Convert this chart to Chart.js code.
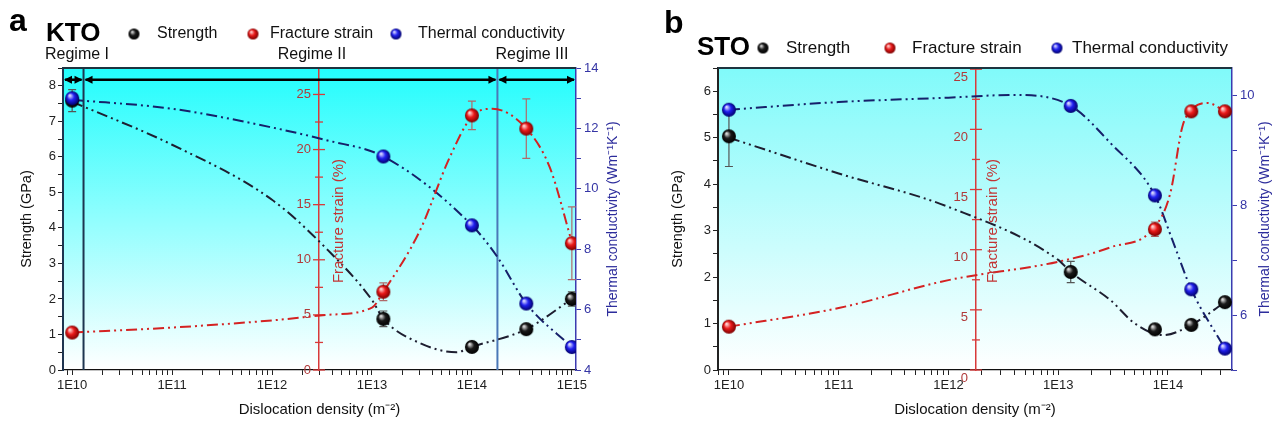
<!DOCTYPE html>
<html>
<head>
<meta charset="utf-8">
<script src="https://cdn.jsdelivr.net/npm/chart.js@4.4.0/dist/chart.umd.min.js"></script>
<style>
  body { margin: 0; background: #fff; width: 1280px; height: 427px; position: relative; overflow: hidden; }
  .panel { position: absolute; top: 0; width: 640px; height: 427px; }
</style>
</head>
<body>
<div class="panel" style="left:0"><canvas id="chartKTO" width="640" height="427"></canvas></div>
<div class="panel" style="left:640px"><canvas id="chartSTO" width="640" height="427"></canvas></div>
<script>
// KTO - measured points
const ktoDensity = [1e10, 1.3e13, 1e14, 3.5e14, 1e15];
const ktoStrength = [7.58, 1.44, 0.65, 1.15, 2.0];
const ktoStrengthErr = [0.31, 0.22, 0.06, 0.08, 0.2];
const ktoStrain = [3.4, 7.1, 23.1, 21.9, 11.5];
const ktoStrainErr = [0, 0.8, 1.3, 2.7, 3.3];
const ktoThermal = [13.0, 11.07, 8.79, 6.2, 4.76];

// KTO - guide curves
const ktoStrengthFitX = [1e10, 1e11, 1e12, 3.6e12, 1e13, 1.3e13, 3e13, 7e13, 1e14, 3.5e14, 1e15];
const ktoStrengthFit = [7.55, 6.34, 4.79, 3.38, 1.97, 1.44, 0.76, 0.5, 0.65, 1.15, 2.0];
const ktoStrainFitX = [1e10, 1e11, 1e12, 3.6e12, 1e13, 1.3e13, 3e13, 6e13, 1e14, 1.6e14, 3.5e14, 6e14, 1e15];
const ktoStrainFit = [3.4, 3.85, 4.5, 5.0, 5.66, 7.1, 12.6, 19.3, 23.0, 23.7, 21.9, 18.4, 11.6];
const ktoThermalFitX = [1e10, 1e11, 1e12, 3.6e12, 1.3e13, 1e14, 1.8e14, 3.5e14, 1e15];
const ktoThermalFit = [12.95, 12.65, 12.03, 11.6, 11.07, 8.79, 7.74, 6.2, 4.76];

const ktoRegimeEdges = [1.3e10, 1.8e14];
const ktoRegimeNames = ['Regime I', 'Regime II', 'Regime III'];

// STO - measured points
const stoDensity = [1e10, 1.3e13, 7.6e13, 1.63e14, 3.3e14];
const stoStrength = [5.03, 2.11, 0.875, 0.97, 1.46];
const stoStrengthErr = [0.65, 0.23, 0.1, 0.08, 0.05];
const stoStrain = [3.6, null, 11.7, 21.5, 21.5];
const stoStrainErr = [0, 0, 0.6, 0, 0];
const stoThermal = [9.74, 9.81, 8.18, 6.47, 5.39];

// STO - guide curves
const stoStrengthFitX = [1e10, 1e11, 1e12, 1e13, 1.3e13, 3e13, 5e13, 9e13, 1.63e14, 3.3e14];
const stoStrengthFit = [5.0, 4.23, 3.51, 2.37, 2.11, 1.5, 1.0, 0.75, 0.97, 1.46];
const stoStrainFitX = [1e10, 1e11, 1e12, 1e13, 3e13, 7.6e13, 1.05e14, 1.35e14, 1.63e14, 2.3e14, 3.3e14];
const stoStrainFit = [3.6, 5.15, 7.47, 9.0, 10.2, 11.9, 14.7, 20.2, 21.6, 22.2, 21.5];
const stoThermalFitX = [1e10, 1e11, 1e12, 4e12, 1.3e13, 3e13, 7.6e13, 1.1e14, 1.63e14, 3.3e14];
const stoThermalFit = [9.74, 9.88, 9.96, 10.01, 9.81, 9.13, 8.18, 7.36, 6.47, 5.39];

// x tick labels
const ktoTickValues = [1e10, 1e11, 1e12, 1e13, 1e14, 1e15];
const ktoTickLabels = ['1E10', '1E11', '1E12', '1E13', '1E14', '1E15'];
const stoTickValues = [1e10, 1e11, 1e12, 1e13, 1e14];
const stoTickLabels = ['1E10', '1E11', '1E12', '1E13', '1E14'];

Chart.defaults.font.family = '"Liberation Sans", Arial, sans-serif';
Chart.defaults.color = '#222';

const DASH = [11, 4, 2, 4, 2, 4];
const FONT = '"Liberation Sans", Arial, sans-serif';

// glossy ball used as point style
function ball(light, mid, dark, r) {
  const s = Math.ceil(r * 2 + 2);
  const c = document.createElement('canvas');
  c.width = s; c.height = s;
  const g = c.getContext('2d');
  const grad = g.createRadialGradient(s / 2 - r * 0.35, s / 2 - r * 0.4, r * 0.1, s / 2, s / 2, r);
  grad.addColorStop(0, light);
  grad.addColorStop(0.45, mid);
  grad.addColorStop(1, dark);
  g.fillStyle = grad;
  g.beginPath(); g.arc(s / 2, s / 2, r, 0, Math.PI * 2); g.fill();
  return c;
}
const balls = {
  black: ball('#d8d8d8', '#1a1a1a', '#000', 7),
  red: ball('#ffd0d0', '#ea1a1a', '#7a0000', 7),
  blue: ball('#d8d8ff', '#2020f0', '#00006a', 7)
};
const smallBalls = {
  black: ball('#d8d8d8', '#1a1a1a', '#000', 5.5),
  red: ball('#ffd0d0', '#ea1a1a', '#7a0000', 5.5),
  blue: ball('#d8d8ff', '#2020f0', '#00006a', 5.5)
};

function pts(xs, ys) { return xs.map((x, i) => ({x: x, y: ys[i]})); }

function logTicks(min, max) {
  const t = [];
  for (let e = 9; e <= 15; e++) {
    for (let m = 1; m <= 9; m++) {
      const v = m * Math.pow(10, e);
      if (v >= min && v <= max) t.push(v);
    }
  }
  return t;
}

function drawErrors(chart, xs, ys, errs, axisId, color) {
  const ctx = chart.ctx, sx = chart.scales.x, sy = chart.scales[axisId];
  ctx.save();
  ctx.strokeStyle = color;
  ctx.lineWidth = 1.2;
  xs.forEach((x, i) => {
    const y = ys[i], e = errs[i];
    if (y == null || !e) return;
    const px = sx.getPixelForValue(x);
    const top = sy.getPixelForValue(y + e), bot = sy.getPixelForValue(y - e);
    ctx.beginPath();
    ctx.moveTo(px, top); ctx.lineTo(px, bot);
    ctx.moveTo(px - 4, top); ctx.lineTo(px + 4, top);
    ctx.moveTo(px - 4, bot); ctx.lineTo(px + 4, bot);
    ctx.stroke();
  });
  ctx.restore();
}

function arrow(ctx, x1, x2, y) {
  const h = 8;
  ctx.beginPath(); ctx.moveTo(x1 + 2, y); ctx.lineTo(x2 - 2, y); ctx.stroke();
  ctx.beginPath();
  ctx.moveTo(x1 + 1, y); ctx.lineTo(x1 + 1 + h, y - h * 0.5); ctx.lineTo(x1 + 1 + h, y + h * 0.5); ctx.closePath();
  ctx.moveTo(x2 - 1, y); ctx.lineTo(x2 - 1 - h, y - h * 0.5); ctx.lineTo(x2 - 1 - h, y + h * 0.5); ctx.closePath();
  ctx.fill();
}

function makePanel(id, p) {
  const fitLine = (xs, ys, axis, color) => ({
    data: pts(xs, ys), yAxisID: axis, borderColor: color, borderWidth: 2,
    borderDash: DASH, pointRadius: 0, cubicInterpolationMode: 'monotone', fill: false
  });
  const marks = (ys, axis, img) => ({
    data: pts(p.density, ys), yAxisID: axis, showLine: false,
    pointStyle: img, pointRadius: 7, pointHoverRadius: 7
  });

  const decor = {
    id: 'decor',
    beforeDraw(chart) {
      const {ctx, chartArea: a} = chart;
      const g = ctx.createLinearGradient(0, a.top, 0, a.bottom);
      g.addColorStop(0, p.topColor);
      g.addColorStop(1, '#ffffff');
      ctx.save();
      ctx.fillStyle = g;
      ctx.fillRect(a.left, a.top, a.right - a.left, a.bottom - a.top);
      ctx.restore();
    },
    beforeDatasetsDraw(chart) {
      const {ctx, chartArea: a, scales} = chart;
      if (p.regimes) {
        const e0 = scales.x.getPixelForValue(p.regimes[0]);
        const e1 = scales.x.getPixelForValue(p.regimes[1]);
        ctx.save();
        ctx.lineWidth = 2;
        ctx.strokeStyle = '#1d3550';
        ctx.beginPath(); ctx.moveTo(e0, a.top); ctx.lineTo(e0, a.bottom); ctx.stroke();
        ctx.strokeStyle = '#4a78b8';
        ctx.beginPath(); ctx.moveTo(e1, a.top); ctx.lineTo(e1, a.bottom); ctx.stroke();
        const ay = scales.y.getPixelForValue(p.arrowAt);
        ctx.strokeStyle = '#000'; ctx.fillStyle = '#000'; ctx.lineWidth = 2.5;
        arrow(ctx, a.left, e0, ay);
        arrow(ctx, e0, e1, ay);
        arrow(ctx, e1, a.right, ay);
        ctx.restore();
      }
      // inner fracture strain axis: crossing ticks and labels
      const ys = scales.yStrain;
      const ax = scales.x.getPixelForValue(p.strainAxisAt);
      ctx.save();
      ctx.strokeStyle = '#d83a3a'; ctx.lineWidth = 1.3;
      ctx.fillStyle = '#b03a3a';
      ctx.font = '13px ' + FONT;
      ctx.textAlign = 'right'; ctx.textBaseline = 'middle';
      ys.ticks.forEach(t => {
        const py = ys.getPixelForValue(t.value);
        const major = t.value % 5 === 0;
        const len = major ? 6 : 4;
        ctx.beginPath(); ctx.moveTo(ax - len, py); ctx.lineTo(ax + len, py); ctx.stroke();
        if (major) ctx.fillText(String(t.value), ax - 8, py + p.strainLabelDy);
      });
      ctx.restore();
      drawErrors(chart, p.density, p.strength, p.strengthErr, 'y', '#555');
      drawErrors(chart, p.density, p.strain, p.strainErr, 'yStrain', '#b06a6a');
    },
    afterDraw(chart) {
      const {ctx, chartArea: a, scales} = chart;
      ctx.save();
      // frame top
      ctx.strokeStyle = '#1d3440'; ctx.lineWidth = 2;
      ctx.beginPath(); ctx.moveTo(a.left, a.top); ctx.lineTo(a.right, a.top); ctx.stroke();
      ctx.textBaseline = 'middle';
      // panel letter and sample
      ctx.fillStyle = '#000';
      ctx.font = 'bold 32px ' + FONT;
      ctx.fillText(p.letter, p.letterX, p.letterY);
      ctx.font = 'bold 26px ' + FONT;
      ctx.fillText(p.sample, p.sampleX, p.headY);
      // legend
      ctx.font = p.legendSize + 'px ' + FONT;
      ctx.fillStyle = '#111';
      const items = [['black', 'Strength'], ['red', 'Fracture strain'], ['blue', 'Thermal conductivity']];
      items.forEach((it, i) => {
        const img = smallBalls[it[0]];
        ctx.drawImage(img, p.legendBall[i] - img.width / 2, p.headY - img.height / 2);
        ctx.fillText(it[1], p.legendText[i], p.headY);
      });
      // regime labels
      if (p.regimes) {
        ctx.font = '16px ' + FONT;
        ctx.textAlign = 'center';
        ktoRegimeNames.forEach((t, i) => ctx.fillText(t, p.regimeLabelX[i], 55));
      }
      // fracture strain title beside the inner axis
      ctx.textAlign = 'center';
      ctx.font = '15px ' + FONT;
      ctx.fillStyle = '#c23434';
      const sxp = scales.x.getPixelForValue(p.strainAxisAt);
      ctx.save();
      ctx.translate(sxp + p.strainTitleDx, (a.top + a.bottom) / 2 + 2);
      ctx.rotate(-Math.PI / 2);
      ctx.fillText('Fracture strain (%)', 0, 0);
      ctx.restore();
      // thermal conductivity title on the right
      ctx.font = '14px ' + FONT;
      ctx.fillStyle = '#2d2d9c';
      ctx.save();
      ctx.translate(a.right + p.thermalTitleDx, (a.top + a.bottom) / 2);
      ctx.rotate(-Math.PI / 2);
      ctx.fillText('Thermal conductivity (Wm⁻¹K⁻¹)', 0, 0);
      ctx.restore();
      ctx.restore();
    }
  };

  const xTicks = logTicks(p.xMin, p.xMax);

  new Chart(document.getElementById(id), {
    type: 'line',
    data: {
      datasets: [
        marks(p.thermal, 'yThermal', balls.blue),
        marks(p.strength, 'y', balls.black),
        marks(p.strain, 'yStrain', balls.red),
        fitLine(p.strengthFitX, p.strengthFit, 'y', '#1e1e30'),
        fitLine(p.strainFitX, p.strainFit, 'yStrain', '#d42222'),
        fitLine(p.thermalFitX, p.thermalFit, 'yThermal', '#16206a')
      ]
    },
    options: {
      responsive: false,
      animation: false,
      layout: {padding: {top: 68, left: 0, right: 0, bottom: 0}},
      plugins: {legend: {display: false}, tooltip: {enabled: false}},
      scales: {
        x: {
          type: 'logarithmic', min: p.xMin, max: p.xMax,
          afterBuildTicks: s => { s.ticks = xTicks.map(v => ({value: v})); },
          afterFit: s => { s.height = 57; },
          border: {color: '#111', width: 1.2},
          grid: {drawOnChartArea: false, tickLength: 5, color: '#222'},
          ticks: {
            autoSkip: false, maxRotation: 0, padding: 3, font: {size: 13}, color: '#222',
            callback: v => {
              const i = p.tickValues.findIndex(t => Math.abs(t - v) / t < 1e-9);
              return i >= 0 ? p.tickLabels[i] : '';
            }
          },
          title: {display: true, text: 'Dislocation density (m⁻²)', font: {size: 15}, color: '#111', padding: {top: 0, bottom: 8}}
        },
        y: {
          position: 'left', min: 0, max: p.strengthMax,
          afterFit: s => { s.width = p.left; },
          border: {color: p.leftBorder, width: 2},
          grid: {drawOnChartArea: false, tickLength: 5, color: '#222'},
          ticks: {stepSize: 0.5, includeBounds: false, autoSkip: false, padding: 2, font: {size: 13}, color: '#222',
            callback: v => Number.isInteger(v) ? v : ''},
          title: {display: true, text: 'Strength (GPa)', font: {size: 14.5}, color: '#111', padding: {top: p.leftTitlePad}}
        },
        yStrain: {
          position: {x: p.strainAxisAt}, min: 0, max: p.strainMax,
          border: {color: '#d83a3a', width: 1.5},
          grid: {drawOnChartArea: false, drawTicks: false},
          ticks: {stepSize: 2.5, includeBounds: false, autoSkip: false, display: false}
        },
        yThermal: {
          position: 'right', min: p.thermalMin, max: p.thermalMax,
          afterFit: s => { s.width = p.right; },
          border: {color: '#3b3bb0', width: 1.5},
          grid: {drawOnChartArea: false, tickLength: 5, color: '#3b3bb0'},
          ticks: {stepSize: 1, includeBounds: false, autoSkip: false, padding: 3, font: {size: 13}, color: '#3535a5',
            callback: v => v % 2 === 0 ? v : ''}
        }
      }
    },
    plugins: [decor]
  });
}

makePanel('chartKTO', {
  density: ktoDensity, strength: ktoStrength, strengthErr: ktoStrengthErr,
  strain: ktoStrain, strainErr: ktoStrainErr, thermal: ktoThermal,
  strengthFitX: ktoStrengthFitX, strengthFit: ktoStrengthFit,
  strainFitX: ktoStrainFitX, strainFit: ktoStrainFit,
  thermalFitX: ktoThermalFitX, thermalFit: ktoThermalFit,
  tickValues: ktoTickValues, tickLabels: ktoTickLabels,
  xMin: 8.1e9, xMax: 1.1e15, strengthMax: 8.5, strainMax: 27.4, thermalMin: 4, thermalMax: 14,
  strainAxisAt: 2.95e12, left: 63, right: 64, leftTitlePad: 18, leftBorder: '#1d3550',
  topColor: '#22fdfd', regimes: ktoRegimeEdges, arrowAt: 8.17, regimeLabelX: [77, 312, 532],
  letter: 'a', letterX: 9, letterY: 22, sample: 'KTO', sampleX: 46, headY: 34,
  legendSize: 16, legendBall: [134, 253, 396], legendText: [157, 270, 418],
  strainTitleDx: 20, thermalTitleDx: 37, strainLabelDy: 0
});

makePanel('chartSTO', {
  density: stoDensity, strength: stoStrength, strengthErr: stoStrengthErr,
  strain: stoStrain, strainErr: stoStrainErr, thermal: stoThermal,
  strengthFitX: stoStrengthFitX, strengthFit: stoStrengthFit,
  strainFitX: stoStrainFitX, strainFit: stoStrainFit,
  thermalFitX: stoThermalFitX, thermalFit: stoThermalFit,
  tickValues: stoTickValues, tickLabels: stoTickLabels,
  xMin: 7.95e9, xMax: 3.83e14, strengthMax: 6.5, strainMax: 25.1, thermalMin: 5, thermalMax: 10.5,
  strainAxisAt: 1.78e12, left: 78, right: 48, leftTitlePad: 29, leftBorder: '#222',
  topColor: '#80fafa', regimes: null,
  letter: 'b', letterX: 24, letterY: 24, sample: 'STO', sampleX: 57, headY: 48,
  legendSize: 17, legendBall: [123, 250, 417], legendText: [146, 272, 432],
  strainTitleDx: 17, thermalTitleDx: 33, strainLabelDy: 8
});
</script>
</body>
</html>
